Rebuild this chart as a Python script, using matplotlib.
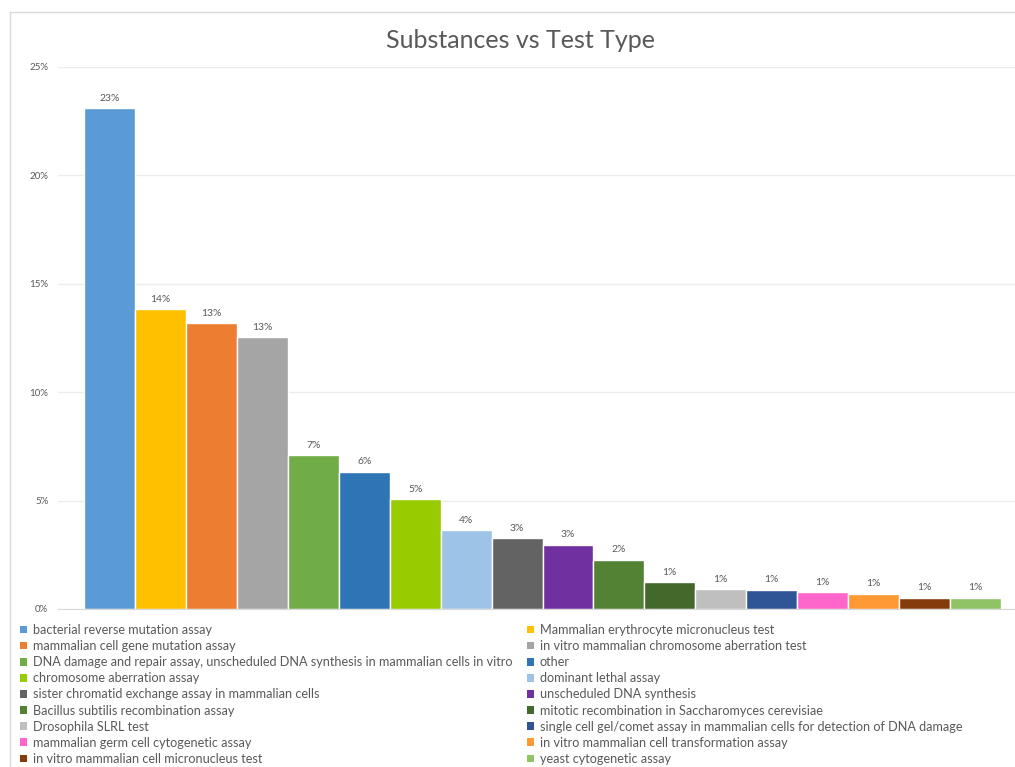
import matplotlib.pyplot as plt
from matplotlib.patches import Patch
from matplotlib.lines import Line2D

tests = [
    'bacterial reverse mutation assay',
    'Mammalian erythrocyte micronucleus test',
    'mammalian cell gene mutation assay',
    'in vitro mammalian chromosome aberration test',
    'DNA damage and repair assay, unscheduled DNA synthesis in mammalian cells in vitro',
    'other',
    'chromosome aberration assay',
    'dominant lethal assay',
    'sister chromatid exchange assay in mammalian cells',
    'unscheduled DNA synthesis',
    'Bacillus subtilis recombination assay',
    'mitotic recombination in Saccharomyces cerevisiae',
    'Drosophila SLRL test',
    'single cell gel/comet assay in mammalian cells for detection of DNA damage',
    'mammalian germ cell cytogenetic assay',
    'in vitro mammalian cell transformation assay',
    'in vitro mammalian cell micronucleus test',
    'yeast cytogenetic assay',
]
share = [23.1, 13.82, 13.18, 12.53, 7.10, 6.32, 5.07, 3.64, 3.27, 2.95,
         2.26, 1.23, 0.91, 0.88, 0.77, 0.69, 0.52, 0.52]
colors = ['#5B9BD5', '#FFC000', '#ED7D31', '#A5A5A5', '#70AD47', '#2E75B6',
          '#99CC00', '#9DC3E6', '#636363', '#7030A0', '#548235', '#43682B',
          '#BFBFBF', '#2F5597', '#FF66CC', '#FF9933', '#843C0C', '#8FC366']

W, H = 1015, 767
fig = plt.figure(figsize=(W / 100, H / 100), dpi=100)
font = 'Lato'
grey = '#595959'

# plot area in pixel terms
ax = fig.add_axes([58 / W, (H - 609) / H, 1 - 58 / W, (609 - 67) / H])
x = list(range(len(share)))
bars = ax.bar(x, share, width=1.0, color=colors, edgecolor='white', linewidth=1.0, zorder=2)
for xi, v in zip(x, share):
    ax.annotate(f'{v:.0f}%', (xi, v), xytext=(0, 4), textcoords='offset points',
                ha='center', va='bottom', fontsize=7.5, color=grey, family=font)

ax.set_xlim(-1.017, 17.78)
ax.set_ylim(0, 25)
ax.set_yticks([0, 5, 10, 15, 20, 25])
ax.set_yticklabels([f'{t}%' for t in [0, 5, 10, 15, 20, 25]], fontsize=7, color=grey, family=font)
ax.set_xticks([])
ax.tick_params(axis='y', length=0, pad=7)
ax.grid(axis='y', color='#ececec', linewidth=1, zorder=0)
for s in ['top', 'right', 'left']:
    ax.spines[s].set_visible(False)
ax.spines['bottom'].set_color('#d9d9d9')

fig.text(520 / W, 1 - 40 / H, 'Substances vs Test Type', ha='center', va='center',
         fontsize=18, color=grey, family=font)

# chart frame
fig.add_artist(Line2D([10 / W, 10 / W], [0, 1 - 12 / H], color='#d9d9d9', lw=1))
fig.add_artist(Line2D([10 / W, 1], [1 - 12 / H, 1 - 12 / H], color='#d9d9d9', lw=1))

handles = [Patch(facecolor=c, edgecolor='none') for c in colors]
leg_kw = dict(loc='upper left', frameon=False, handlelength=0.55, handleheight=0.55,
              handletextpad=0.45, labelspacing=0.325, borderaxespad=0, borderpad=0,
              prop={'family': font, 'size': 9.1}, labelcolor=grey)
left = fig.legend(handles[0::2], tests[0::2], bbox_to_anchor=(20 / W, 1 - 624 / H), **leg_kw)
right = fig.legend(handles[1::2], tests[1::2], bbox_to_anchor=(527 / W, 1 - 624 / H), **leg_kw)

fig.savefig('out.png', dpi=100, facecolor='white')
